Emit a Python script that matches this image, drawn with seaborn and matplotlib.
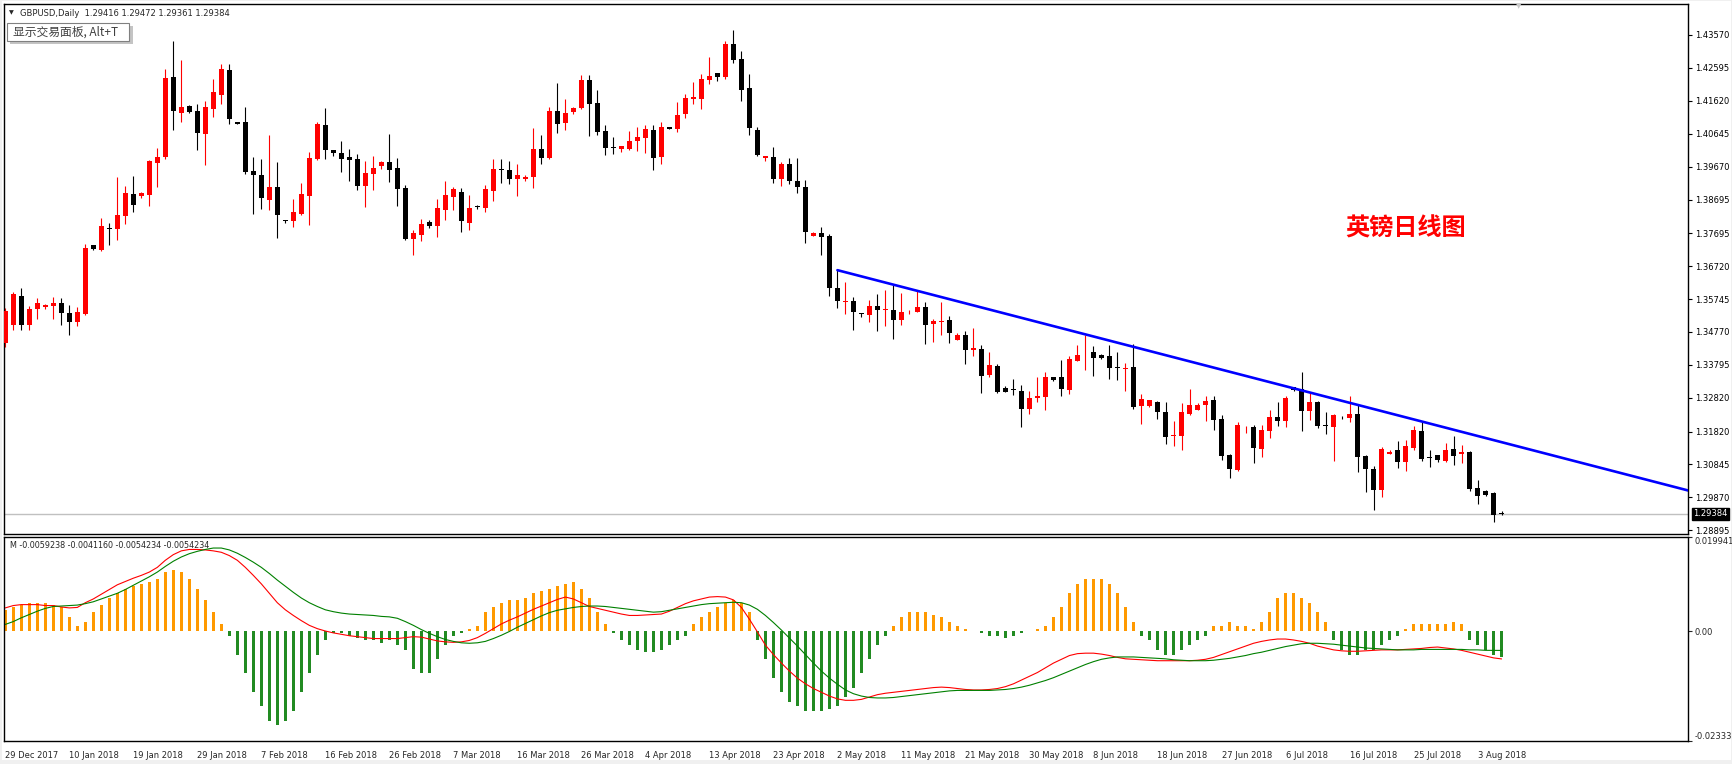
import numpy as np
import pandas as pd
import matplotlib
matplotlib.use("Agg")
import matplotlib.pyplot as plt
from matplotlib.patches import Rectangle
import seaborn as sns

# ---- data (one entry per daily bar) ----
opens = [1.34449, 1.34983, 1.35841, 1.34983, 1.35456, 1.35515, 1.35545, 1.35634, 1.35338, 1.35072,
         1.35308, 1.37342, 1.37204, 1.37855, 1.37825, 1.38220, 1.38862, 1.38803, 1.38842, 1.39790,
         1.39957, 1.42326, 1.41270, 1.41468, 1.41319, 1.40648, 1.41389, 1.41803, 1.42534, 1.40994,
         1.40994, 1.39543, 1.39424, 1.38694, 1.39069, 1.38092, 1.38072, 1.38279, 1.38813, 1.39898,
         1.40905, 1.40155, 1.40066, 1.39948, 1.39888, 1.39108, 1.39464, 1.39691, 1.39809, 1.39632,
         1.39040, 1.37539, 1.37648, 1.38033, 1.37914, 1.38388, 1.38773, 1.38921, 1.38003, 1.38487,
         1.38447, 1.38951, 1.39602, 1.39572, 1.39306, 1.39306, 1.39365, 1.40194, 1.39928, 1.41320,
         1.40964, 1.41290, 1.41408, 1.42238, 1.41556, 1.40727, 1.40254, 1.40194, 1.40204, 1.40441,
         1.40530, 1.40757, 1.39967, 1.40846, 1.40797, 1.41241, 1.41685, 1.41685, 1.42247, 1.42445,
         1.42336, 1.43304, 1.42859, 1.42001, 1.40757, 1.39938, 1.39957, 1.39316, 1.39750, 1.39247,
         1.39069, 1.37628, 1.37707, 1.37618, 1.36078, 1.35664, 1.35693, 1.35338, 1.35259, 1.35545,
         1.35407, 1.35427, 1.35111, 1.35348, 1.35377, 1.35516, 1.35012, 1.35052, 1.35131, 1.34539,
         1.34687, 1.34243, 1.34272, 1.33502, 1.33768, 1.33117, 1.33088, 1.33028, 1.32495, 1.32821,
         1.32851, 1.33443, 1.33443, 1.33058, 1.33917, 1.34104, 1.34183, 1.34094, 1.34065, 1.33719,
         1.33660, 1.33739, 1.32584, 1.32584, 1.32703, 1.32407, 1.31676, 1.31696, 1.32347, 1.32466,
         1.32614, 1.32762, 1.32199, 1.31133, 1.30689, 1.31883, 1.31962, 1.31311, 1.31844, 1.32258,
         1.32140, 1.33137, 1.33088, 1.32436, 1.32703, 1.32012, 1.31962, 1.32258, 1.32229, 1.32347,
         1.31104, 1.30719, 1.30097, 1.31163, 1.31282, 1.30926, 1.31341, 1.31844, 1.31054, 1.31133,
         1.30955, 1.31311, 1.31163, 1.31222, 1.30156, 1.30067, 1.30008, 1.29416]
highs = [1.35486, 1.35960, 1.36078, 1.35545, 1.35782, 1.35604, 1.35812, 1.35782, 1.35575, 1.35515,
         1.37381, 1.37342, 1.38151, 1.38013, 1.39365, 1.39099, 1.39395, 1.38921, 1.39869, 1.40224,
         1.42553, 1.43383, 1.42830, 1.41487, 1.41527, 1.41616, 1.42257, 1.42721, 1.42721, 1.40994,
         1.41438, 1.39957, 1.39898, 1.40609, 1.39809, 1.38092, 1.38714, 1.39188, 1.40105, 1.40994,
         1.41408, 1.40155, 1.40431, 1.40194, 1.40046, 1.39839, 1.39987, 1.39839, 1.40639, 1.39928,
         1.39128, 1.37796, 1.38122, 1.38092, 1.38714, 1.39247, 1.39069, 1.39040, 1.38832, 1.38536,
         1.39128, 1.39898, 1.39898, 1.39839, 1.39750, 1.39424, 1.40816, 1.40609, 1.41438, 1.42149,
         1.41675, 1.41438, 1.42386, 1.42386, 1.41942, 1.40905, 1.40550, 1.40283, 1.40727, 1.40846,
         1.40905, 1.40905, 1.40994, 1.40846, 1.41586, 1.41823, 1.42178, 1.42415, 1.42919, 1.42445,
         1.43392, 1.43718, 1.43096, 1.42415, 1.40846, 1.39987, 1.40254, 1.39809, 1.39928, 1.39928,
         1.39277, 1.37737, 1.37885, 1.37677, 1.36602, 1.36256, 1.35812, 1.35338, 1.35723, 1.35901,
         1.36019, 1.36167, 1.35930, 1.35417, 1.36019, 1.35664, 1.35160, 1.35664, 1.35249, 1.34746,
         1.34805, 1.34894, 1.34391, 1.34183, 1.33828, 1.33177, 1.33384, 1.33206, 1.33028, 1.33443,
         1.33591, 1.33443, 1.33946, 1.34065, 1.34391, 1.34687, 1.34361, 1.34124, 1.34391, 1.34183,
         1.33857, 1.34420, 1.32940, 1.32762, 1.32732, 1.32703, 1.32140, 1.32673, 1.33088, 1.32673,
         1.32880, 1.32880, 1.32318, 1.31163, 1.32110, 1.31992, 1.32022, 1.32022, 1.32466, 1.32703,
         1.32880, 1.33137, 1.33591, 1.32969, 1.32732, 1.32407, 1.32347, 1.32288, 1.32880, 1.32614,
         1.31133, 1.30807, 1.31370, 1.31282, 1.31548, 1.31578, 1.31992, 1.32110, 1.31282, 1.31133,
         1.31489, 1.31696, 1.31430, 1.31252, 1.30393, 1.30097, 1.30038, 1.29472]
lows = [1.34331, 1.34835, 1.34835, 1.34835, 1.35160, 1.35456, 1.35160, 1.34983, 1.34686, 1.34953,
        1.35269, 1.37204, 1.37184, 1.37362, 1.37500, 1.37974, 1.38329, 1.38743, 1.38516, 1.39079,
        1.39908, 1.40767, 1.41003, 1.41270, 1.40165, 1.39721, 1.41152, 1.41537, 1.40935, 1.40945,
        1.39454, 1.38279, 1.38418, 1.38388, 1.37569, 1.38013, 1.37894, 1.38250, 1.37954, 1.39878,
        1.39898, 1.39997, 1.39523, 1.39247, 1.38990, 1.38487, 1.38990, 1.39612, 1.39227, 1.38516,
        1.37500, 1.37056, 1.37480, 1.37865, 1.37589, 1.38092, 1.38388, 1.37736, 1.37796, 1.38418,
        1.38329, 1.38654, 1.39188, 1.39158, 1.38803, 1.39247, 1.39040, 1.39750, 1.39898, 1.40668,
        1.40757, 1.41231, 1.41379, 1.40579, 1.40609, 1.40017, 1.40046, 1.40105, 1.40165, 1.40145,
        1.40086, 1.39582, 1.39760, 1.40797, 1.40708, 1.41122, 1.41537, 1.41389, 1.42129, 1.42218,
        1.42277, 1.42751, 1.41626, 1.40619, 1.39997, 1.39849, 1.39198, 1.39109, 1.39168, 1.38901,
        1.37421, 1.37628, 1.37066, 1.35822, 1.35467, 1.35318, 1.34815, 1.35229, 1.35081, 1.34785,
        1.34933, 1.34548, 1.34963, 1.35318, 1.35348, 1.34420, 1.34479, 1.34687, 1.34450, 1.34539,
        1.33828, 1.34065, 1.32970, 1.33443, 1.32970, 1.32999, 1.32910, 1.31962, 1.32347, 1.32703,
        1.32466, 1.33324, 1.32880, 1.32940, 1.33917, 1.33650, 1.33473, 1.33976, 1.33384, 1.33354,
        1.33028, 1.32495, 1.32051, 1.32554, 1.32199, 1.31459, 1.31400, 1.31282, 1.32318, 1.32466,
        1.32140, 1.31873, 1.30985, 1.30452, 1.30660, 1.31785, 1.30896, 1.31074, 1.31637, 1.31992,
        1.31962, 1.33028, 1.31844, 1.32170, 1.31933, 1.31755, 1.30955, 1.32199, 1.32110, 1.30630,
        1.30038, 1.29505, 1.29890, 1.31163, 1.30748, 1.30660, 1.31282, 1.30955, 1.30778, 1.30926,
        1.30926, 1.30837, 1.30896, 1.30067, 1.29682, 1.29919, 1.29150, 1.29361]
closes = [1.35406, 1.35901, 1.34983, 1.35456, 1.35634, 1.35575, 1.35634, 1.35338, 1.35072, 1.35368,
          1.37262, 1.37243, 1.37914, 1.37825, 1.38240, 1.38891, 1.38546, 1.38901, 1.39849, 1.39957,
          1.42297, 1.41329, 1.41438, 1.41300, 1.40678, 1.41438, 1.41882, 1.42563, 1.41093, 1.40945,
          1.39523, 1.39434, 1.38753, 1.39069, 1.38250, 1.38062, 1.38329, 1.38862, 1.39928, 1.40935,
          1.40175, 1.40086, 1.39908, 1.39878, 1.39108, 1.39484, 1.39632, 1.39809, 1.39582, 1.39020,
          1.37529, 1.37707, 1.37974, 1.37924, 1.38447, 1.38832, 1.39010, 1.38063, 1.38447, 1.38467,
          1.39010, 1.39602, 1.39582, 1.39306, 1.39424, 1.39365, 1.40194, 1.39928, 1.41320, 1.40935,
          1.41260, 1.41408, 1.42238, 1.41527, 1.40698, 1.40224, 1.40234, 1.40283, 1.40431, 1.40550,
          1.40787, 1.39938, 1.40846, 1.40797, 1.41201, 1.41705, 1.41734, 1.42267, 1.42356, 1.42336,
          1.43304, 1.42840, 1.41951, 1.40826, 1.40026, 1.39987, 1.39316, 1.39750, 1.39257, 1.39079,
          1.37747, 1.37707, 1.37598, 1.36059, 1.35674, 1.35684, 1.35348, 1.35289, 1.35545, 1.35407,
          1.35447, 1.35111, 1.35368, 1.35377, 1.35516, 1.34983, 1.35101, 1.35101, 1.34726, 1.34687,
          1.34243, 1.34302, 1.33473, 1.33798, 1.32999, 1.32999, 1.33038, 1.32495, 1.32821, 1.32880,
          1.33443, 1.33354, 1.33088, 1.33976, 1.34094, 1.34124, 1.34006, 1.34006, 1.33709, 1.33689,
          1.33699, 1.32554, 1.32791, 1.32762, 1.32407, 1.31667, 1.31726, 1.32407, 1.32614, 1.32614,
          1.32732, 1.32170, 1.31104, 1.30719, 1.32022, 1.31903, 1.31341, 1.31873, 1.32258, 1.32140,
          1.32821, 1.33058, 1.32436, 1.32703, 1.31992, 1.31972, 1.32318, 1.32238, 1.32347, 1.31074,
          1.30719, 1.30097, 1.31311, 1.31222, 1.30926, 1.31400, 1.31873, 1.31015, 1.31035, 1.30985,
          1.31282, 1.31104, 1.31222, 1.30126, 1.29919, 1.29949, 1.29357, 1.29384]

macd_hist = [.0045, .005, .0055, .006, .006, .006, .0055, .005, .003, .001,
             .002, .004, .0055, .007, .008, .009, .0095, .010, .0105, .011,
             .0125, .013, .0125, .011, .009, .0065, .004, .0015, -.001, -.005,
             -.009, -.013, -.016, -.019, -.020, -.019, -.017, -.013, -.009, -.005,
             -.002, -.0005, -.0005, -.001, -.0015, -.002, -.002, -.0025, -.002, -.003,
             -.004, -.008, -.009, -.009, -.006, -.003, -.001, -.0005, .0005, .001,
             .004, .005, .006, .0065, .0065, .007, .008, .0085, .009, .0095,
             .010, .0105, .009, .007, .004, .0015, -.0005, -.002, -.003, -.004,
             -.0045, -.0045, -.004, -.003, -.002, -.001, .0015, .003, .004, .005,
             .006, .0065, .006, .004, -.002, -.006, -.010, -.013, -.015, -.016,
             -.017, -.017, -.017, -.0165, -.016, -.014, -.012, -.009, -.006, -.003,
             -.001, .001, .003, .004, .004, .004, .0035, .003, .002, .001,
             .0005, 0, -.0005, -.001, -.001, -.0015, -.001, -.0005, 0, .0005,
             .001, .003, .005, .008, .010, .011, .011, .011, .010, .008,
             .005, .002, -.001, -.002, -.004, -.005, -.005, -.004, -.003, -.002,
             -.001, .001, .001, .002, .001, .001, .0005, .002, .004, .007,
             .008, .008, .007, .006, .004, .002, -.002, -.004, -.005, -.005,
             -.004, -.004, -.003, -.002, -.001, .0005, .0015, .0015, .0015, .0015,
             .0015, .002, .0015, -.002, -.003, -.004, -.005, -.0054234]
macd_main = [.0049, .0054, .0056, .0056, .0056, .0054, .0054, .0051, .0049, .0050,
             .0060, .0068, .0078, .0088, .0098, .0105, .0112, .0118, .0125, .0135,
             .0150, .0162, .0170, .0173, .0173, .0172, .0170, .0167, .0160, .0150,
             .0135, .0118, .0100, .0080, .0060, .0045, .0033, .0022, .0012, .0005,
             0, -.0004, -.0007, -.0010, -.0012, -.0014, -.0016, -.0016, -.0016, -.0016,
             -.0014, -.0012, -.0013, -.0017, -.0021, -.0023, -.0024, -.0023, -.0020, -.0014,
             -.0005, .0005, .0015, .0023, .0030, .0038, .0046, .0053, .0060, .0067,
             .0072, .0068, .0060, .0052, .0048, .0044, .0040, .0036, .0033, .0033,
             .0034, .0035, .0036, .0042, .0050, .0058, .0064, .0068, .0072, .0073,
             .0072, .0066, .0050, .0025, -.0002, -.0030, -.0050, -.0068, -.0085, -.0100,
             -.0112, -.0122, -.0130, -.0138, -.0144, -.0147, -.0147, -.0145, -.0140, -.0135,
             -.0132, -.0130, -.0128, -.0126, -.0124, -.0122, -.0120, -.0119, -.0120, -.0122,
             -.0124, -.0125, -.0125, -.0124, -.0122, -.0118, -.0112, -.0104, -.0096, -.0088,
             -.0078, -.0068, -.0060, -.0052, -.0048, -.0047, -.0047, -.0049, -.0052, -.0056,
             -.0059, -.0060, -.0061, -.0062, -.0063, -.0063, -.0063, -.0063, -.0063, -.0062,
             -.0060, -.0056, -.0050, -.0044, -.0038, -.0032, -.0026, -.0022, -.0019, -.0017,
             -.0017, -.0019, -.0022, -.0026, -.0032, -.0036, -.0040, -.0042, -.0043, -.0043,
             -.0042, -.0041, -.0040, -.0040, -.0040, -.0039, -.0038, -.0037, -.0035, -.0034,
             -.0036, -.0038, -.0041, -.0045, -.0049, -.0053, -.0057, -.0059238]
macd_signal = [.0014, .0020, .0028, .0035, .0042, .0048, .0052, .0053, .0054, .0055,
               .0058, .0062, .0068, .0074, .0080, .0088, .0097, .0106, .0115, .0125,
               .0137, .0148, .0157, .0164, .0169, .0173, .0176, .0176, .0172, .0165,
               .0156, .0146, .0135, .0122, .0108, .0095, .0082, .0070, .0060, .0052,
               .0045, .0041, .0038, .0036, .0035, .0034, .0033, .0031, .0030, .0027,
               .0020, .0012, .0003, -.0005, -.0012, -.0018, -.0022, -.0025, -.0026, -.0025,
               -.0022, -.0016, -.0009, -.0001, .0008, .0016, .0024, .0032, .0039, .0044,
               .0047, .0050, .0052, .0053, .0053, .0052, .0050, .0048, .0046, .0044,
               .0042, .0040, .0041, .0044, .0047, .0050, .0053, .0056, .0058, .0059,
               .0060, .0061, .0060, .0055, .0046, .0033, .0018, .0002, -.0015, -.0032,
               -.0050, -.0068, -.0085, -.0100, -.0113, -.0125, -.0133, -.0138, -.0141, -.0142,
               -.0142, -.0141, -.0139, -.0137, -.0135, -.0133, -.0131, -.0129, -.0127, -.0126,
               -.0126, -.0126, -.0126, -.0126, -.0125, -.0124, -.0122, -.0119, -.0115, -.0110,
               -.0105, -.0099, -.0092, -.0085, -.0078, -.0071, -.0065, -.0060, -.0057, -.0055,
               -.0055, -.0055, -.0056, -.0057, -.0058, -.0059, -.0061, -.0062, -.0063, -.0063,
               -.0063, -.0062, -.0060, -.0058, -.0055, -.0052, -.0048, -.0045, -.0041, -.0037,
               -.0033, -.0030, -.0027, -.0026, -.0026, -.0027, -.0028, -.0030, -.0032, -.0034,
               -.0036, -.0037, -.0038, -.0039, -.0040, -.0040, -.0040, -.0039, -.0039, -.0039,
               -.0039, -.0039, -.0039, -.0040, -.0040, -.0041, -.0041, -.0041160]

date_labels = ["29 Dec 2017", "10 Jan 2018", "19 Jan 2018", "29 Jan 2018", "7 Feb 2018",
               "16 Feb 2018", "26 Feb 2018", "7 Mar 2018", "16 Mar 2018", "26 Mar 2018",
               "4 Apr 2018", "13 Apr 2018", "23 Apr 2018", "2 May 2018", "11 May 2018",
               "21 May 2018", "30 May 2018", "8 Jun 2018", "18 Jun 2018", "27 Jun 2018",
               "6 Jul 2018", "16 Jul 2018", "25 Jul 2018", "3 Aug 2018"]
date_label_bars = list(range(0, 185, 8))
price_ticks = [1.43570, 1.42595, 1.41620, 1.40645, 1.39670, 1.38695, 1.37695, 1.36720,
               1.35745, 1.34770, 1.33795, 1.32820, 1.31820, 1.30845, 1.29870, 1.28895]
macd_ticks = [0.019941, 0.0, -0.02333]
macd_tick_labels = ["0.019941", "0.00", "-0.02333"]
# trend line anchors (bar, price); drawn as a ray to the right edge
trend_bars = [104, 187]
trend_prices = [1.36602, 1.31506]

df = pd.DataFrame({"bar": np.arange(len(opens)), "open": opens, "high": highs,
                   "low": lows, "close": closes, "hist": macd_hist,
                   "main": macd_main, "signal": macd_signal})

W, H = 1733, 764
sns.set_style("white")
plt.rcParams['font.family'] = ['DejaVu Sans', 'Noto Sans CJK SC']

fig = plt.figure(figsize=(W / 100, H / 100), dpi=100, facecolor="#f0f0f0")


def fbox(x0, y0, x1, y1):
    # pixel box (top-left origin) -> figure fraction [left, bottom, width, height]
    return [x0 / W, 1 - y1 / H, (x1 - x0) / W, (y1 - y0) / H]


fig.patches.append(Rectangle(fbox(2, 1, 1731, 760)[:2], 1729 / W, 759 / H,
                             transform=fig.transFigure, facecolor="white",
                             edgecolor="none", zorder=-10))

ax = fig.add_axes(fbox(4, 4, 1688, 534))
ax2 = fig.add_axes(fbox(4, 537, 1688, 741))
x_left, x_right = -0.16, 210.3

# ---- candles ----
up = df["close"] >= df["open"]
cols = np.where(up, "#ff0000", "#000000")
ax.vlines(df["bar"], df["low"], df["high"], colors=cols, linewidth=0.8, zorder=2)
body = np.maximum((df["close"] - df["open"]).abs(), 0.00022)
ax.bar(df["bar"], body, bottom=np.minimum(df["open"], df["close"]), width=0.62,
       color=cols, linewidth=0, zorder=3)

# last price line
ax.axhline(closes[-1], color="#c0c0c0", linewidth=1.0, zorder=1)

# trend ray
slope = (trend_prices[1] - trend_prices[0]) / (trend_bars[1] - trend_bars[0])
ray = pd.DataFrame({"bar": [trend_bars[0], x_right + 1]})
ray["price"] = trend_prices[0] + slope * (ray["bar"] - trend_bars[0])
sns.lineplot(data=ray, x="bar", y="price", ax=ax, color="#0000ff", linewidth=1.9, zorder=4)

ax.set_xlim(x_left, x_right)
ax.set_ylim(1.28785, 1.44488)
ax.yaxis.tick_right()
ax.set_yticks(price_ticks)
ax.set_yticklabels([f"{v:.5f}" for v in price_ticks])
ax.tick_params(axis="y", direction="out", length=3, width=0.8, pad=2, labelsize=6, colors="black")
ax.set_xticks([])
ax.set_xlabel("")
ax.set_ylabel("")
for s in ax.spines.values():
    s.set_color("black")
    s.set_linewidth(1.0)

# current price tag
ax.text(1.003, closes[-1], f"{closes[-1]:.5f}", transform=ax.get_yaxis_transform(),
        ha="left", va="center", fontsize=6, color="white",
        bbox=dict(boxstyle="square,pad=0.15", facecolor="black", edgecolor="black"))

# ---- MACD panel ----
hist_cols = np.where(df["hist"] >= 0, "#ff9900", "#228b22")
ax2.bar(df["bar"], df["hist"], width=0.42, color=hist_cols, linewidth=0)
sns.lineplot(data=df, x="bar", y="main", ax=ax2, color="#ff0000", linewidth=0.8)
sns.lineplot(data=df, x="bar", y="signal", ax=ax2, color="#008000", linewidth=0.8)
ax2.set_xlim(x_left, x_right)
ax2.set_ylim(-0.02333, 0.019941)
ax2.yaxis.tick_right()
ax2.set_yticks(macd_ticks)
ax2.set_yticklabels(macd_tick_labels)
ax2.tick_params(axis="y", direction="out", length=3, width=0.8, pad=2, labelsize=6)
labs = ax2.get_yticklabels()
labs[0].set_va("top")
labs[2].set_va("bottom")
ax2.set_xticks(date_label_bars)
ax2.set_xticklabels(date_labels, ha="left")
ax2.tick_params(axis="x", direction="out", length=4, width=0.8, pad=3, labelsize=6)
ax2.set_xlabel("")
ax2.set_ylabel("")
for s in ax2.spines.values():
    s.set_color("black")
    s.set_linewidth(1.0)

# ---- texts ----
fig.text(1406 / W, 1 - 229 / H, "英镑日线图", color="#ff0000", fontsize=17.4,
         fontweight="bold", family=["Noto Sans CJK SC"], ha="center", va="center")
fig.text(9 / W, 1 - 13 / H, "▼", fontsize=4.5, va="center", ha="left")
fig.text(20 / W, 1 - 13 / H, "GBPUSD,Daily  1.29416 1.29472 1.29361 1.29384",
         fontsize=6.0, va="center", ha="left")
fig.text(1519 / W, 1 - 6 / H, "▼", fontsize=5, color="#c8c8c8", va="center", ha="center")
# tooltip box with its shadow
sb = fbox(10, 26, 133, 44)
fig.patches.append(Rectangle(sb[:2], sb[2], sb[3], transform=fig.transFigure,
                             facecolor="#c4c4c4", edgecolor="none", zorder=5))
tb = fbox(7, 23, 129, 41)
fig.patches.append(Rectangle(tb[:2], tb[2], tb[3], transform=fig.transFigure,
                             facecolor="white", edgecolor="#808080", linewidth=0.8, zorder=6))
fig.text(13 / W, 1 - 32.5 / H, "显示交易面板, Alt+T", fontsize=8.5, color="#404040",
         family=["Noto Sans CJK SC", "DejaVu Sans"], va="center", ha="left", zorder=7)
fig.text(10 / W, 1 - 545 / H, "M -0.0059238 -0.0041160 -0.0054234 -0.0054234",
         fontsize=5.8, va="center", ha="left")

fig.savefig("out.png", dpi=100, facecolor=fig.get_facecolor())
